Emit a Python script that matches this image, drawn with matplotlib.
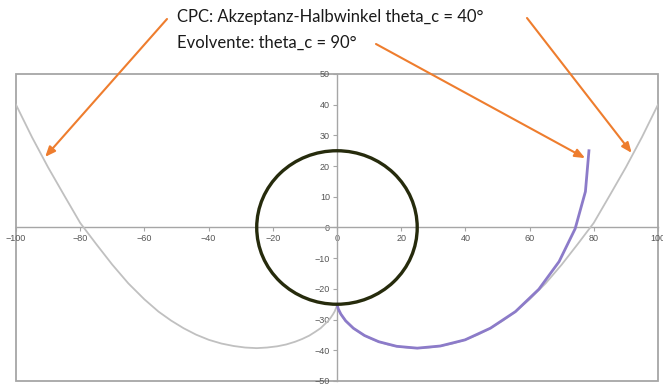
import matplotlib.pyplot as plt
from matplotlib.patches import Ellipse, Rectangle

# CPC profile (gray), left and right branch
cpc_x = [-100, -95, -90, -85, -80, -75, -70, -65, -60, -55.6, -51.7, -47.8, -43.9, -39.9, -36,
         -32.2, -28.6, -25, -21.8, -18.6, -15.8, -13, -10.8, -8.6, -6.8, -5.1, -3.9, -2.7,
         -1.9, -1.2, -0.7, -0.4, -0.1, 0,
         0.1, 0.4, 0.7, 1.2, 1.9, 2.7, 3.9, 5.1, 6.8, 8.6, 10.8, 13, 15.8, 18.6, 21.8, 25,
         28.6, 32.2, 36, 39.9, 43.9, 47.8, 51.7, 55.6, 60, 65, 70, 75, 80, 85, 90, 95, 100]
cpc_y = [40, 29.4, 19.6, 10.5, 1.5, -5.4, -12.1, -18.2, -23.4, -27.4, -30.3, -32.8, -34.9, -36.6,
         -37.8, -38.6, -39.1, -39.3, -39.1, -38.7, -38.1, -37.2, -36.3, -35.2, -34.0, -32.8,
         -31.6, -30.4, -29.3, -28.2, -27.3, -26.5, -25.7, -25,
         -25.7, -26.5, -27.3, -28.2, -29.3, -30.4, -31.6, -32.8, -34.0, -35.2, -36.3, -37.2,
         -38.1, -38.7, -39.1, -39.3, -39.1, -38.6, -37.8, -36.6, -34.9, -32.8, -30.3, -27.4,
         -23.4, -18.2, -12.1, -5.4, 1.5, 10.5, 19.6, 29.4, 40]

# involute (purple)
evo_x = [0, 0.4, 1.2, 2.7, 5.1, 8.6, 13, 18.6, 25, 32.2, 39.9, 47.8, 55.6, 62.9, 69.2, 74.2,
         77.4, 78.5]
evo_y = [-25, -26.5, -28.2, -30.4, -32.8, -35.2, -37.2, -38.7, -39.3, -38.6, -36.6, -32.8, -27.4,
         -20.1, -11.1, -0.4, 11.7, 25]

# absorber tube
tube_center = (0, 0)
tube_radius = 25

x_ticks = [-100, -80, -60, -40, -20, 0, 20, 40, 60, 80, 100]
y_ticks = [-50, -40, -30, -20, -10, 0, 10, 20, 30, 40, 50]

label_cpc = "CPC: Akzeptanz-Halbwinkel theta_c = 40°"
label_evo = "Evolvente: theta_c = 90°"

axis_grey = "#a6a6a6"
orange = "#ee7d2e"

fig = plt.figure(figsize=(6.63, 3.85), dpi=100)
ax = fig.add_axes([0.0241, 0.0104, 0.9683, 0.7974])

ax.plot(cpc_x, cpc_y, color="#c0c0c0", lw=1.3, zorder=3)
ax.plot(evo_x, evo_y, color="#8c7bc9", lw=2.0, zorder=4)
ax.add_patch(Ellipse(tube_center, 2 * tube_radius, 2 * tube_radius, fill=False,
                     edgecolor="#262b0c", lw=2.4, zorder=5))

ax.set_xlim(-100, 100)
ax.set_ylim(-50, 50)
ax.set_xticks(x_ticks)
ax.set_yticks(y_ticks)

# axes crossing at the origin, plus a box round the plot area
ax.spines["left"].set_position(("data", 0))
ax.spines["bottom"].set_position(("data", 0))
ax.spines["top"].set_visible(False)
ax.spines["right"].set_visible(False)
for s in ["left", "bottom"]:
    ax.spines[s].set_color(axis_grey)
    ax.spines[s].set_linewidth(1.0)
ax.add_patch(Rectangle((0, 0), 1, 1, transform=ax.transAxes, fill=False,
                       edgecolor=axis_grey, lw=1.3, clip_on=False, zorder=1))

ax.tick_params(axis="both", direction="out", length=3, width=0.8, color=axis_grey,
               labelsize=6.5, labelcolor="#555555", pad=2)
for lab in ax.get_xticklabels() + ax.get_yticklabels():
    lab.set_family("Liberation Sans")

# caption and arrows
fig.text(177 / 663, 1 - 17 / 385, label_cpc, fontsize=12, family="Lato",
         color="#1a1a1a", va="center", ha="left")
fig.text(177 / 663, 1 - 43 / 385, label_evo, fontsize=12, family="Lato",
         color="#1a1a1a", va="center", ha="left")

arrows = [((-90.9, 23), (167 / 663, 1 - 19 / 385)),
          ((91.8, 24.3), (527 / 663, 1 - 18 / 385)),
          ((77.3, 22.6), (376 / 663, 1 - 44 / 385))]
for tip, start in arrows:
    ax.annotate("", xy=tip, xycoords="data", xytext=start, textcoords="figure fraction",
                arrowprops=dict(arrowstyle="-|>,head_length=0.6,head_width=0.25",
                                color=orange, lw=1.5, shrinkA=0, shrinkB=0),
                annotation_clip=False, zorder=6)

plt.savefig("out.png", dpi=100)
